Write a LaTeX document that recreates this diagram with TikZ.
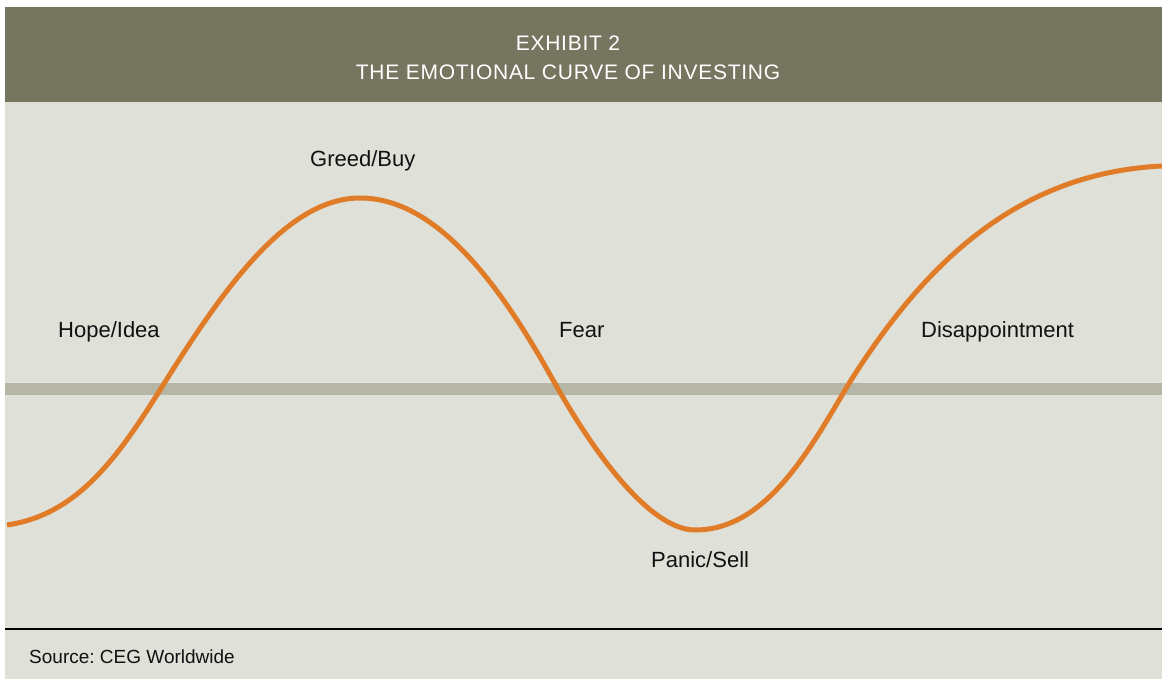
\documentclass[tikz,border=0pt]{standalone}
\usepackage{fontspec}
\setmainfont{Liberation Sans}
\newfontfamily\titlefont[LetterSpace=3.5]{Liberation Sans}
\definecolor{headcol}{RGB}{118,117,96}
\definecolor{bgcol}{RGB}{223,224,216}
\definecolor{bandcol}{RGB}{181,182,166}
\definecolor{curvecol}{RGB}{224,123,40}
\definecolor{txtcol}{RGB}{17,17,17}
\tikzset{
  lbl/.style={anchor=base west, inner sep=0pt, text=txtcol, font=\fontsize{22}{25}\selectfont},
  ttl/.style={anchor=base, inner sep=0pt, text=white, font=\titlefont\fontsize{21}{24}\selectfont},
  src/.style={anchor=base west, inner sep=0pt, text=txtcol, font=\frenchspacing\fontsize{19}{22}\selectfont},
  curve/.style={draw=curvecol, line width=5pt, line cap=butt, line join=round}
}
\begin{document}
\begin{tikzpicture}[x=1pt,y=-1pt]
\useasboundingbox (0,0) rectangle (1162,679);
\fill[white] (0,0) rectangle (1162,679);
% header
\fill[headcol] (5,7) rectangle (1162,102);
\fill[bgcol] (5,102) rectangle (1162,679);
\node[ttl] (t1) at (568,51) {EXHIBIT 2};
\node[ttl] (t2) at (568,80) {THE EMOTIONAL CURVE OF INVESTING};
% band
\fill[bandcol] (5,383) rectangle (1162,395);
% curve
\coordinate (c0) at (7,525);
\coordinate (i1) at (160,390);
\coordinate (pk) at (360,198);
\coordinate (i2) at (553,380);
\coordinate (tr) at (695,530);
\coordinate (i3) at (848,385);
\coordinate (c1) at (1162,166);
\draw[curve] (c0) .. controls (75,515) and (115,462) .. (i1)
  .. controls (220,294) and (285,198) .. (pk)
  .. controls (435,198) and (498,281) .. (i2)
  .. controls (593,452) and (650,530) .. (tr)
  .. controls (765,530) and (808,453) .. (i3)
  .. controls (928,257) and (1022,173) .. (c1);
% labels
\node[lbl] (greed) at (310,167) {Greed/Buy};
\node[lbl] (hope) at (58,337) {Hope/Idea};
\node[lbl] (fear) at (559,337) {Fear};
\node[lbl] (disap) at (921,337) {Disappointment};
\node[lbl] (panic) at (651,567) {Panic/Sell};
% footer
\draw[black, line width=2.5pt] (5,629) -- (1162,629);
\node[src] (source) at (29,663) {Source: CEG Worldwide};
\end{tikzpicture}
\end{document}
